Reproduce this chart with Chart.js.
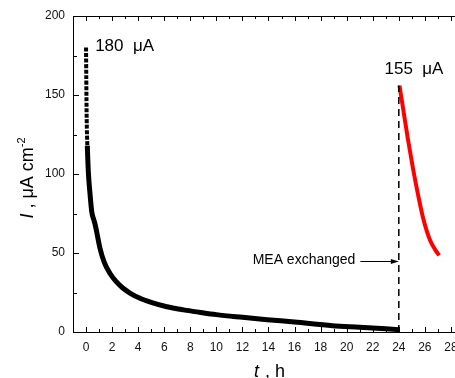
<!DOCTYPE html>
<html>
<head>
<meta charset="utf-8">
<script src="https://cdn.jsdelivr.net/npm/chart.js@4/dist/chart.umd.min.js"></script>
<style>
  html, body { margin: 0; padding: 0; background: #fff; overflow: hidden; }
  #wrap { width: 455px; height: 378px; overflow: hidden; }
</style>
</head>
<body>
<div id="wrap"><canvas id="chart" width="490" height="378"></canvas></div>
<script>
// first run (old MEA)
const timeOld = [0, 0.02, 0.05, 0.1, 0.18, 0.3, 0.44, 0.6, 0.7, 0.85, 1.07, 1.4, 1.84, 2.3, 2.8, 3.4, 4.1, 5, 6.2, 7.5, 8.7, 10, 12, 13.9, 16, 18.9, 21, 23, 24];
const currentOld = [180, 160, 135, 118, 101, 88, 76, 71, 68, 62, 53, 44, 37, 32, 28, 24.5, 21.5, 18.8, 16, 14, 12.5, 11, 9.3, 7.8, 6.3, 4, 3, 2, 1.5];
// second run (after MEA exchange)
const timeNew = [24.05, 24.3, 24.7, 25.1, 25.5, 25.9, 26.4, 26.8, 27.1];
const currentNew = [156, 143, 122, 103, 86, 71, 58, 52, 48.5];
// exchange marker
const exchangeTime = [24, 24];
const exchangeLevel = [0, 156];
const arrowFrom = [21.05, 45];
const arrowTo = [24, 45];
const arrowText = 'MEA exchanged';
const peakLabels = [
    { text: '180  \u03bcA', t: 0.7, i: 181 },
    { text: '155  \u03bcA', t: 22.9, i: 166 }
];
const xTicks = [0, 2, 4, 6, 8, 10, 12, 14, 16, 18, 20, 22, 24, 26, 28];
const yTicks = [0, 50, 100, 150, 200];

const toPoints = (xs, ys) => xs.map((x, k) => ({ x: x, y: ys[k] }));

const frameAndNotes = {
    id: 'frameAndNotes',
    afterDraw(chart) {
        const ctx = chart.ctx;
        const area = chart.chartArea;
        const xs = chart.scales.x;
        const ys = chart.scales.y;
        ctx.save();
        ctx.strokeStyle = '#000';
        ctx.lineWidth = 1;

        // top frame
        ctx.beginPath();
        ctx.moveTo(area.left, area.top + 0.5);
        ctx.lineTo(area.right, area.top + 0.5);
        ctx.stroke();

        // inward ticks
        xs.ticks.forEach(t => {
            const px = Math.round(xs.getPixelForValue(t.value)) + 0.5;
            const len = xTicks.includes(t.value) ? 5 : 3;
            ctx.beginPath();
            ctx.moveTo(px, area.bottom);
            ctx.lineTo(px, area.bottom - len);
            ctx.moveTo(px, area.top);
            ctx.lineTo(px, area.top + len);
            ctx.stroke();
        });
        ys.ticks.forEach(t => {
            const py = Math.round(ys.getPixelForValue(t.value)) + 0.5;
            const len = yTicks.includes(t.value) ? 6 : 4;
            ctx.beginPath();
            ctx.moveTo(area.left, py);
            ctx.lineTo(area.left + len, py);
            ctx.stroke();
        });

        // arrow
        const ax0 = xs.getPixelForValue(arrowFrom[0]);
        const ax1 = xs.getPixelForValue(arrowTo[0]);
        const ay = Math.round(ys.getPixelForValue(arrowFrom[1])) + 0.5;
        ctx.beginPath();
        ctx.moveTo(ax0, ay);
        ctx.lineTo(ax1 - 2, ay);
        ctx.stroke();
        ctx.fillStyle = '#000';
        ctx.beginPath();
        ctx.moveTo(ax1, ay);
        ctx.lineTo(ax1 - 8, ay - 2.5);
        ctx.lineTo(ax1 - 8, ay + 2.5);
        ctx.closePath();
        ctx.fill();

        ctx.font = '14px "Liberation Sans", Arial, sans-serif';
        ctx.textAlign = 'right';
        ctx.textBaseline = 'middle';
        ctx.fillText(arrowText, ax0 - 5, ay - 1);

        // peak labels
        ctx.font = '17px "Liberation Sans", Arial, sans-serif';
        ctx.textAlign = 'left';
        peakLabels.forEach(l => {
            ctx.fillText(l.text, xs.getPixelForValue(l.t), ys.getPixelForValue(l.i));
        });

        // x title
        ctx.textAlign = 'left';
        ctx.textBaseline = 'alphabetic';
        ctx.font = 'italic 18px "Liberation Sans", Arial, sans-serif';
        const tx = 254;
        ctx.fillText('t', tx, 377);
        ctx.font = '18px "Liberation Sans", Arial, sans-serif';
        ctx.fillText(' , h', tx + ctx.measureText('t').width + 1, 377);

        // y title
        ctx.translate(33, 178);
        ctx.rotate(-Math.PI / 2);
        const parts = [['I', 'italic 18px'], [' , \u03bcA cm', '18px']];
        let w = 0;
        parts.forEach(p => { ctx.font = p[1] + ' "Liberation Sans", Arial, sans-serif'; w += ctx.measureText(p[0]).width; });
        ctx.font = '11px "Liberation Sans", Arial, sans-serif';
        w += ctx.measureText('-2').width;
        let cx = -w / 2;
        parts.forEach(p => {
            ctx.font = p[1] + ' "Liberation Sans", Arial, sans-serif';
            ctx.fillText(p[0], cx, 0);
            cx += ctx.measureText(p[0]).width;
        });
        ctx.font = '11px "Liberation Sans", Arial, sans-serif';
        ctx.fillText('-2', cx, -8);
        ctx.restore();
    }
};

new Chart(document.getElementById('chart'), {
    type: 'line',
    data: {
        datasets: [
            {
                data: toPoints(exchangeTime, exchangeLevel),
                borderColor: '#000',
                borderWidth: 1.5,
                borderDash: [7, 5],
                pointRadius: 0
            },
            {
                data: toPoints(timeOld, currentOld),
                borderColor: '#000',
                borderWidth: 5,
                cubicInterpolationMode: 'monotone',
                pointRadius: 0,
                segment: {
                    borderDash: c => c.p1DataIndex <= 3 ? [4, 1.5] : undefined,
                    borderWidth: c => c.p1DataIndex <= 3 ? 4 : undefined
                }
            },
            {
                data: toPoints(timeNew, currentNew),
                borderColor: '#ff0000',
                borderWidth: 4,
                cubicInterpolationMode: 'monotone',
                pointRadius: 0
            }
        ]
    },
    options: {
        responsive: false,
        animation: false,
        layout: { padding: { top: 16, right: 13, left: 0, bottom: 0 } },
        plugins: { legend: { display: false }, tooltip: { enabled: false } },
        scales: {
            x: {
                type: 'linear',
                min: -1,
                max: 30,
                afterFit: s => { s.height = 46; },
                afterBuildTicks: s => {
                    s.ticks = [];
                    for (let v = -1; v <= 30; v++) s.ticks.push({ value: v });
                },
                grid: { display: false, drawTicks: false },
                border: { display: true, color: '#000', width: 1 },
                ticks: {
                    autoSkip: false,
                    maxRotation: 0,
                    padding: 8,
                    color: '#111',
                    font: { family: '"Liberation Sans", Arial, sans-serif', size: 12 },
                    callback: v => xTicks.includes(v) ? String(v) : ''
                }
            },
            y: {
                type: 'linear',
                min: 0,
                max: 200,
                afterFit: s => { s.width = 73; },
                afterBuildTicks: s => {
                    s.ticks = [];
                    for (let v = 0; v <= 200; v += 25) s.ticks.push({ value: v });
                },
                grid: { display: false, drawTicks: false },
                border: { display: true, color: '#000', width: 1 },
                ticks: {
                    autoSkip: false,
                    padding: 8,
                    color: '#111',
                    font: { family: '"Liberation Sans", Arial, sans-serif', size: 12 },
                    callback: v => yTicks.includes(v) ? String(v) : ''
                }
            }
        }
    },
    plugins: [frameAndNotes]
});
</script>
</body>
</html>
